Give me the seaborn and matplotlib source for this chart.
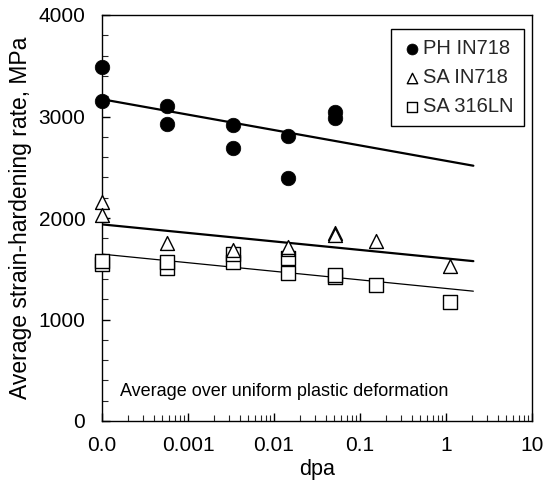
import numpy as np
import pandas as pd
import matplotlib
matplotlib.use("Agg")
import matplotlib.pyplot as plt
import seaborn as sns
from matplotlib.ticker import FixedLocator, LogLocator, NullFormatter, MultipleLocator

# ---- data ----
ph_dpa = [1e-4, 1e-4, 5.7e-4, 5.7e-4, 3.37e-3, 3.37e-3, 0.0146, 0.0146, 0.0518, 0.0518]
ph_rate = [3485, 3156, 3104, 2926, 2913, 2689, 2808, 2390, 3047, 2982]

sa718_dpa = [1e-4, 1e-4, 5.7e-4, 3.37e-3, 0.0146, 0.0146, 0.0518, 0.0518, 0.152, 1.12]
sa718_rate = [2160, 2029, 1750, 1685, 1690, 1715, 1855, 1830, 1772, 1526]

sa316_dpa = [1e-4, 1e-4, 5.7e-4, 5.7e-4, 3.37e-3, 3.37e-3, 0.0146, 0.0146, 0.0518, 0.0518, 0.152, 1.12]
sa316_rate = [1545, 1580, 1510, 1570, 1565, 1650, 1602, 1454, 1415, 1440, 1335, 1171]

fit_dpa = [1e-4, 2.08]
ph_fit = [3170, 2515]
sa718_fit = [1937, 1575]
sa316_fit = [1644, 1279]

x_ticks = [1e-4, 1e-3, 1e-2, 1e-1, 1, 10]
x_ticklabels = ["0.0", "0.001", "0.01", "0.1", "1", "10"]
y_ticks = [0, 1000, 2000, 3000, 4000]

series_names = ["PH IN718", "SA IN718", "SA 316LN"]

# ---- style ----
sns.set_theme(style="ticks")
plt.rcParams["font.family"] = ["Liberation Sans", "DejaVu Sans"]
plt.rcParams["axes.edgecolor"] = "black"
plt.rcParams["axes.linewidth"] = 1.0

fig = plt.figure(figsize=(5.51, 4.80), dpi=100)
ax = fig.add_axes([102 / 551, 1 - 421 / 480, (532 - 102) / 551, (421 - 15) / 480])

# fit lines
fit_df = pd.DataFrame({"dpa": fit_dpa * 3,
                       "rate": ph_fit + sa718_fit + sa316_fit,
                       "series": [series_names[0]] * 2 + [series_names[1]] * 2 + [series_names[2]] * 2})
for name, lw in zip(series_names, [1.6, 1.6, 0.9]):
    sns.lineplot(data=fit_df[fit_df.series == name], x="dpa", y="rate", ax=ax,
                 color="black", linewidth=lw, legend=False, estimator=None)

# points
ph_df = pd.DataFrame({"dpa": ph_dpa, "rate": ph_rate})
sa718_df = pd.DataFrame({"dpa": sa718_dpa, "rate": sa718_rate})
sa316_df = pd.DataFrame({"dpa": sa316_dpa, "rate": sa316_rate})

sns.scatterplot(data=sa316_df, x="dpa", y="rate", ax=ax, marker="s", s=90,
                facecolor="white", edgecolor="black", linewidth=1.0, label=series_names[2],
                zorder=3, clip_on=False)
sns.scatterplot(data=sa718_df, x="dpa", y="rate", ax=ax, marker="^", s=100,
                facecolor="white", edgecolor="black", linewidth=1.0, label=series_names[1],
                zorder=4, clip_on=False)
sns.scatterplot(data=ph_df, x="dpa", y="rate", ax=ax, marker="o", s=110,
                facecolor="black", edgecolor="black", linewidth=0.5, label=series_names[0],
                zorder=5, clip_on=False)

ax.set_xscale("log")
ax.set_xlim(1e-4, 10)
ax.set_ylim(0, 4000)

ax.xaxis.set_major_locator(FixedLocator(x_ticks))
ax.set_xticklabels(x_ticklabels)
ax.xaxis.set_minor_locator(LogLocator(base=10, subs=np.arange(2, 10)))
ax.xaxis.set_minor_formatter(NullFormatter())
ax.yaxis.set_major_locator(FixedLocator(y_ticks))
ax.yaxis.set_minor_locator(MultipleLocator(200))

ax.tick_params(axis="both", which="major", direction="in", length=6, width=1,
               labelsize=15, colors="black")
ax.tick_params(axis="x", which="major", pad=11)
ax.tick_params(axis="y", which="major", pad=12)
ax.tick_params(axis="both", which="minor", direction="in", length=4, width=0.8)
ax.tick_params(top=False, right=False, which="both")

ax.set_xlabel("dpa", fontsize=15.5, color="black", labelpad=3)
ax.set_ylabel("Average strain-hardening rate, MPa", fontsize=16.5, color="black", labelpad=5)

for sp in ax.spines.values():
    sp.set_visible(True)
    sp.set_color("black")
    sp.set_linewidth(1.0)

ax.text(0.043, 0.072, "Average over uniform plastic deformation", transform=ax.transAxes,
        fontsize=13, color="black", ha="left", va="center")

handles, labels = ax.get_legend_handles_labels()
order = [labels.index(n) for n in series_names]
leg = ax.legend([handles[i] for i in order], [labels[i] for i in order],
                loc="upper right", bbox_to_anchor=(0.981, 0.9655), fontsize=14.5,
                frameon=True, fancybox=False, edgecolor="black", framealpha=1,
                markerscale=0.75, handletextpad=0.0, handlelength=1.1,
                borderpad=0.5, labelspacing=0.5, borderaxespad=0.0)
leg.get_frame().set_linewidth(1.0)

fig.savefig("out.png", dpi=100)
